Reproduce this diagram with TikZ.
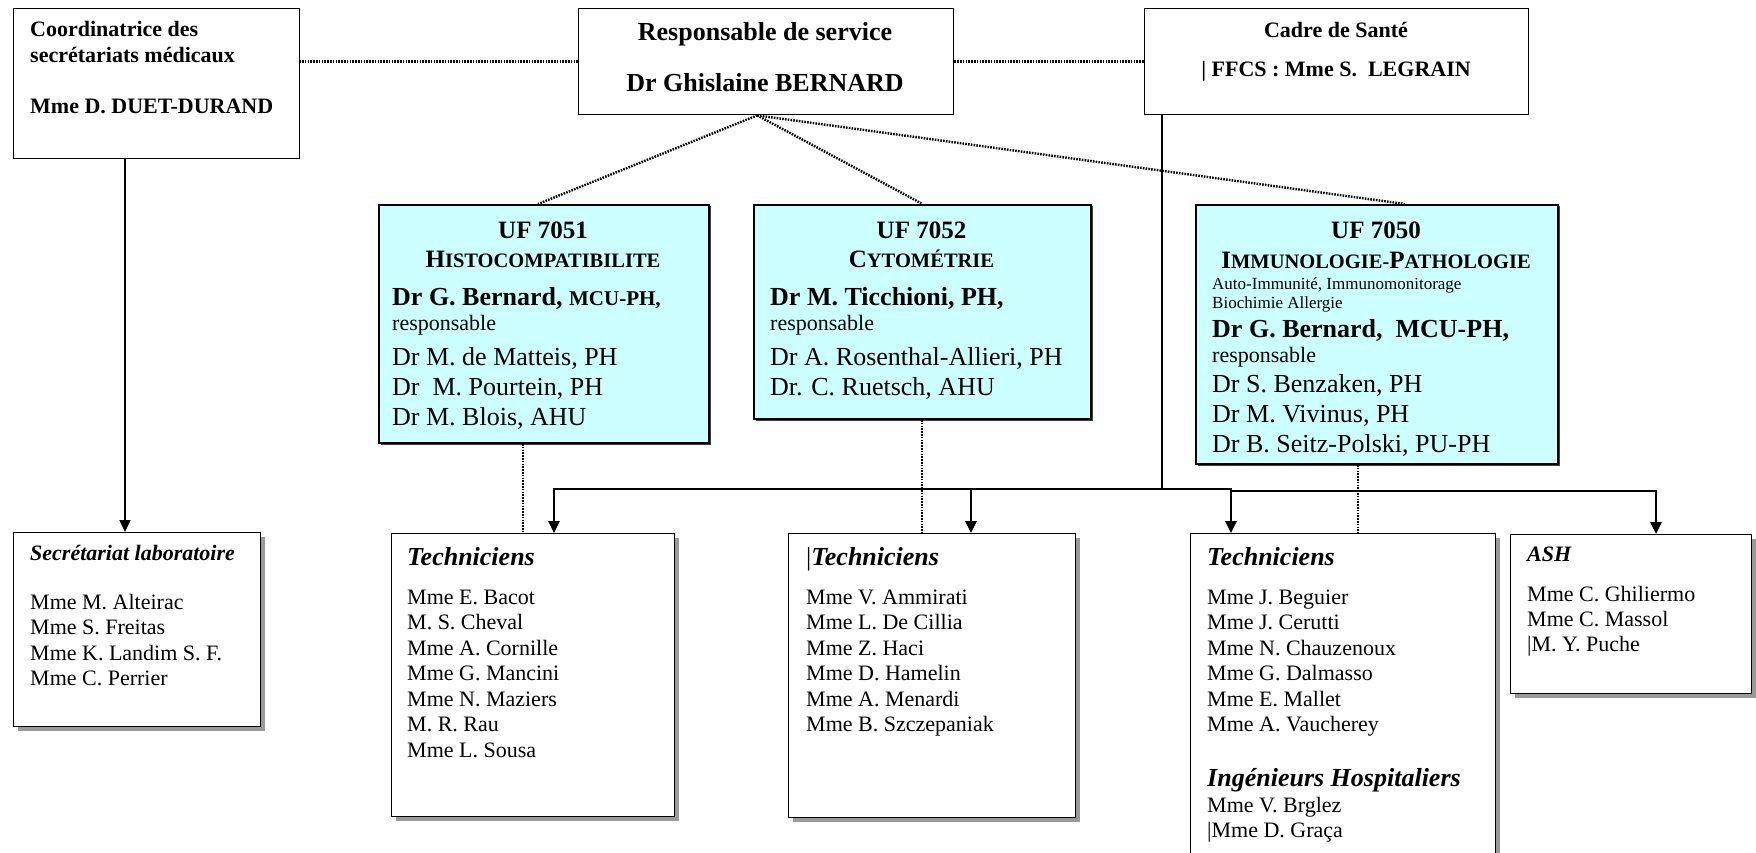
\documentclass[tikz,border=0pt]{standalone}
\usepackage{fontspec}
\setmainfont{Liberation Serif}
\usetikzlibrary{arrows.meta,calc,shadows}
\definecolor{ufcyan}{HTML}{CCFFFF}
\definecolor{shgray}{HTML}{9A9A9A}
\newcommand\fsz[1]{\fontsize{#1}{#1}\selectfont}
\newcommand\scp[2]{{\fsz{25}#1}{\fsz{20.5}#2}}
\begin{document}
\begin{tikzpicture}[x=1pt,y=-1pt,
  box/.style={draw=black,line width=1.4pt,fill=white,inner sep=0pt,anchor=north west},
  ufbox/.style={draw=black,line width=2pt,fill=ufcyan,inner sep=0pt,anchor=north west,
    drop shadow={shadow xshift=1.5pt,shadow yshift=-1.5pt,fill=black!75,opacity=1}},
  shbox/.style={box,drop shadow={shadow xshift=4pt,shadow yshift=-4pt,fill=shgray,opacity=1}},
  tl/.style={inner sep=0pt,anchor=base west},
  tm/.style={inner sep=0pt,anchor=base},
  dotline/.style={line width=2.4pt,dash pattern=on 1.6pt off 1.2pt},
  mainline/.style={line width=2.6pt,line join=miter},
  tip/.tip={Triangle[width=11pt,length=12pt]},
  arr/.style={mainline,-tip},
  thinarr/.style={line width=1.6pt,-tip},
  hb/.style={font=\fsz{22}\bfseries},
  hbig/.style={font=\fsz{26}\bfseries},
  uft/.style={tm,font=\fsz{25}\bfseries},
  nm/.style={tl,font=\fsz{22}},
  big/.style={tl,font=\fsz{26}},
  sub/.style={tl,font=\fsz{22}\bfseries\itshape},
  subbig/.style={tl,font=\fsz{26}\bfseries\itshape}]

\useasboundingbox (0,0) rectangle (1756,853);
\clip (0,0) rectangle (1756,853);
\fill[white] (0,0) rectangle (1756,853);

% ---------- top row
\node[box,minimum width=285.5pt,minimum height=150pt] (coord) at (13,8) {};
\node[box,minimum width=375pt,minimum height=106pt] (resp) at (578,8) {};
\node[box,minimum width=384pt,minimum height=106pt] (cadre) at (1144,8) {};

\node[tl,hb] (c1) at (30,37) {Coordinatrice des};
\node[tl,hb] (c2) at (30,63) {secrétariats médicaux};
\node[tl,hb] (c3) at (30,114) {Mme D. DUET-DURAND};

\node[tm,hbig] (r1) at (765,41) {Responsable de service};
\node[tm,hbig] (r2) at (765,92) {Dr Ghislaine BERNARD};

\node[tm,hb] (k1) at (1336,38) {Cadre de Santé};
\node[tm,hb] (k2) at (1336,77) {| FFCS : Mme S.~~LEGRAIN};

% ---------- UF boxes
\node[ufbox,minimum width=330pt,minimum height=238pt] (uf51) at (378,204) {};
\node[ufbox,minimum width=337pt,minimum height=214pt] (uf52) at (753,204) {};
\node[ufbox,minimum width=362pt,minimum height=259pt] (uf50) at (1195,204) {};

% UF 7051
\node[uft] (u51a) at (543,238) {UF 7051};
\node[tm,font=\bfseries] (u51b) at (543,267) {\scp{H}{ISTOCOMPATIBILITE}};
\node[tl,font=\fsz{26}\bfseries] (u51c) at (392,305) {Dr G. Bernard, {\fsz{21}MCU-PH,}};
\node[nm] (u51d) at (392,330) {responsable};
\foreach \t [count=\i from 0] in {{Dr M. de Matteis, PH},{Dr~~M. Pourtein, PH},{Dr M. Blois, AHU}}
  \node[big] (u51n\i) at (392,{365+30*\i}) {\t};

% UF 7052
\node[uft] (u52a) at (921.5,238) {UF 7052};
\node[tm,font=\bfseries] (u52b) at (921.5,267) {\scp{C}{YTOMÉTRIE}};
\node[tl,font=\fsz{26}\bfseries] (u52c) at (770,305) {Dr M. Ticchioni, PH,};
\node[nm] (u52d) at (770,330) {responsable};
\foreach \t [count=\i from 0] in {{Dr A. Rosenthal-Allieri, PH},{Dr. C. Ruetsch, AHU}}
  \node[big] (u52n\i) at (770,{365+30*\i}) {\t};

% UF 7050
\node[uft] (u50a) at (1376,238) {UF 7050};
\node[tm,font=\bfseries] (u50b) at (1376,268) {\scp{I}{MMUNOLOGIE-}\scp{P}{ATHOLOGIE}};
\node[tl,font=\fsz{17}] (u50c) at (1212,289) {Auto-Immunité, Immunomonitorage};
\node[tl,font=\fsz{17}] (u50d) at (1212,308) {Biochimie Allergie};
\node[tl,font=\fsz{26}\bfseries] (u50e) at (1212,337) {Dr G. Bernard,~~MCU-PH,};
\node[nm] (u50f) at (1212,362) {responsable};
\foreach \t [count=\i from 0] in {{Dr S. Benzaken, PH},{Dr M. Vivinus, PH},{Dr B. Seitz-Polski, PU-PH}}
  \node[big] (u50n\i) at (1212,{392+30*\i}) {\t};

% ---------- bottom boxes
\node[shbox,minimum width=247pt,minimum height=194pt] (secr) at (13,532) {};
\node[shbox,minimum width=283pt,minimum height=283pt] (tech1) at (391,533) {};
\node[shbox,minimum width=287pt,minimum height=284pt] (tech2) at (788,533) {};
\node[shbox,minimum width=305pt,minimum height=340pt] (tech3) at (1190,533) {};
\node[shbox,minimum width=241pt,minimum height=159pt] (ash) at (1510,534) {};

\node[sub] (s0) at (30,560) {Secrétariat laboratoire};
\foreach \t [count=\i from 0] in {{Mme M. Alteirac},{Mme S. Freitas},{Mme K. Landim S. F.},{Mme C. Perrier}}
  \node[nm] (sn\i) at (30,{609+25.5*\i}) {\t};

\node[subbig] (t10) at (407,565) {Techniciens};
\foreach \t [count=\i from 0] in {{Mme E. Bacot},{M. S. Cheval},{Mme A. Cornille},{Mme G. Mancini},{Mme N. Maziers},{M. R. Rau},{Mme L. Sousa}}
  \node[nm] (t1n\i) at (407,{604+25.5*\i}) {\t};

\node[tl,font=\fsz{26}] (t20) at (806,565) {|{\bfseries\itshape Techniciens}};
\foreach \t [count=\i from 0] in {{Mme V. Ammirati},{Mme L. De Cillia},{Mme Z. Haci},{Mme D. Hamelin},{Mme A. Menardi},{Mme B. Szczepaniak}}
  \node[nm] (t2n\i) at (806,{604+25.5*\i}) {\t};

\node[subbig] (t30) at (1207,565) {Techniciens};
\foreach \t [count=\i from 0] in {{Mme J. Beguier},{Mme J. Cerutti},{Mme N. Chauzenoux},{Mme G. Dalmasso},{Mme E. Mallet},{Mme A. Vaucherey}}
  \node[nm] (t3n\i) at (1207,{604+25.5*\i}) {\t};
\node[subbig] (t3i) at (1207,786) {Ingénieurs Hospitaliers};
\node[nm] (t3j) at (1207,812) {Mme V. Brglez};
\node[nm] (t3k) at (1207,837) {|Mme D. Graça};

\node[sub] (a0) at (1527,561) {ASH};
\foreach \t [count=\i from 0] in {{Mme C. Ghiliermo},{Mme C. Massol},{|M. Y. Puche}}
  \node[nm] (an\i) at (1527,{601+25*\i}) {\t};

% ---------- connectors
\coordinate (ro) at ($(resp.south)+(-9,0)$);
\coordinate (x51) at (538,0);
\coordinate (x50) at (1405,0);
\coordinate (ca) at (125,0);
\coordinate (j) at (1162,489);
\coordinate (b1) at (554,489);
\coordinate (b2) at (971,489);
\coordinate (b3a) at (1231,489);
\coordinate (b3b) at (1231,491);
\coordinate (b4) at (1656,491);
\coordinate (d1) at (523,0);
\coordinate (d2) at (922,0);
\coordinate (d3) at (1358,0);

\draw[dotline] (resp.west) -- (resp.west -| coord.east);
\draw[dotline] (resp.east) -- (cadre.west);
\draw[dotline] (ro) -- (x51 |- uf51.north);
\draw[dotline] (ro) -- (uf52.north);
\draw[dotline] (ro) -- (x50 |- uf50.north);

\draw[dotline] (d1 |- uf51.south) -- (d1 |- tech1.north);
\draw[dotline] (d2 |- uf52.south) -- (d2 |- tech2.north);
\draw[dotline] (d3 |- uf50.south) -- (d3 |- tech3.north);

\draw[thinarr] (ca |- coord.south) -- (ca |- secr.north);

\draw[mainline] (j |- cadre.south) -- (j);
\draw[mainline,tip-tip] (b1 |- tech1.north) -- (b1) -- (b3a) -- (b3a |- tech3.north);
\draw[mainline,-tip] (b3a) -- (b3b) -- (b4) -- (b4 |- ash.north);
\draw[arr] (b2) -- (b2 |- tech2.north);
\end{tikzpicture}
\end{document}
